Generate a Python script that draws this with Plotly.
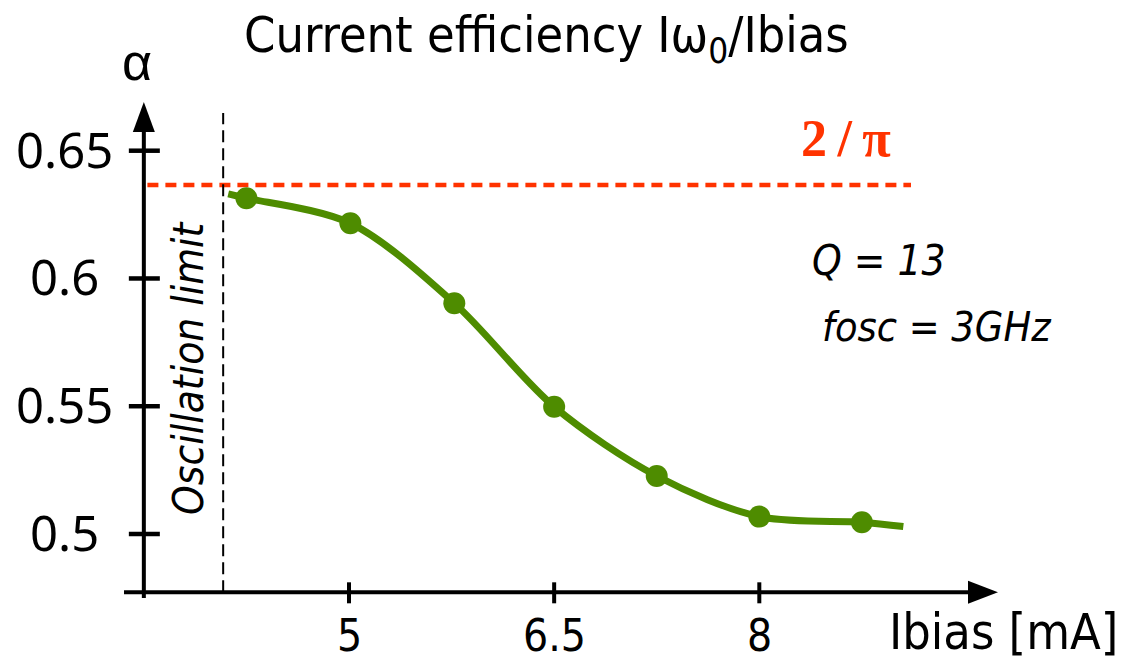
import plotly.graph_objects as go

# Measured current efficiency alpha versus bias current
ibias_ma = [4.25, 5.01, 5.77, 6.5, 7.25, 8.0, 8.75]
alpha = [0.6314, 0.6216, 0.5903, 0.5498, 0.5227, 0.5068, 0.5046]

# Smooth fitted trend drawn through the measurements
fit_ibias = [4.117, 4.25, 5.01, 5.77, 6.5, 7.25, 8.0, 8.75, 9.053]
fit_alpha = [0.6331, 0.6314, 0.6216, 0.5903, 0.5498, 0.5227, 0.5068, 0.5046, 0.5029]

# Axis ticks
x_ticks = [5, 6.5, 8]
x_tick_labels = ["5", "6.5", "8"]
y_ticks = [0.5, 0.55, 0.6, 0.65]
y_tick_labels = ["0.5", "0.55", "0.6", "0.65"]

# Theoretical limit and oscillation threshold
LIMIT = 2 / 3.141592653589793
OSC_LIMIT = 4.08

# Where the two drawn axes cross, and where their arrows end
X0, Y0 = 3.5, 0.47718
X_END, Y_END = 9.745, 0.6691

W, H = 1126, 670
GREEN = "#4e8c00"
RED = "#ff3300"
NARROW = "DejaVu Sans Condensed, Liberation Sans, sans-serif"

fig = go.Figure()

fig.add_trace(go.Scatter(
    x=fit_ibias, y=fit_alpha, mode="lines",
    line=dict(color=GREEN, width=7, shape="spline", smoothing=0.9),
    hoverinfo="skip", showlegend=False,
))
fig.add_trace(go.Scatter(
    x=ibias_ma, y=alpha, mode="markers",
    marker=dict(color=GREEN, size=22, line=dict(width=0)),
    showlegend=False,
))

shapes = []
# 2/pi dashed line
shapes.append(dict(type="line", xref="x", yref="y", x0=3.526, x1=9.109, y0=LIMIT, y1=LIMIT,
                   line=dict(color=RED, width=4.5, dash="11px,7px"), layer="below"))
# oscillation limit
shapes.append(dict(type="line", xref="x", yref="y", x0=OSC_LIMIT, x1=OSC_LIMIT, y0=Y0, y1=0.6648,
                   line=dict(color="black", width=2, dash="12px,6px"), layer="below"))
# axes
shapes.append(dict(type="line", xref="x", yref="y", x0=X0, x1=X0, y0=0.4750, y1=Y_END - 0.01,
                   line=dict(color="black", width=4)))
shapes.append(dict(type="line", xref="x", yref="y", x0=3.355, x1=X_END - 0.15, y0=Y0, y1=Y0,
                   line=dict(color="black", width=4)))
# arrow heads
shapes.append(dict(type="path", xref="x", yref="y",
                   path=f"M {X0 - 0.0804},{Y_END - 0.0118} L {X0 + 0.0804},{Y_END - 0.0118} L {X0},{Y_END} Z",
                   fillcolor="black", line=dict(width=0)))
shapes.append(dict(type="path", xref="x", yref="y",
                   path=f"M {X_END - 0.219},{Y0 - 0.0045} L {X_END - 0.219},{Y0 + 0.0045} L {X_END},{Y0} Z",
                   fillcolor="black", line=dict(width=0)))
# tick marks crossing the axes
for v in y_ticks:
    shapes.append(dict(type="line", xref="x", yref="y", xsizemode="pixel", xanchor=X0,
                       x0=-15, x1=16, y0=v, y1=v, line=dict(color="black", width=4.5)))
for v in x_ticks:
    shapes.append(dict(type="line", xref="x", yref="y", ysizemode="pixel", yanchor=Y0,
                       y0=-11, y1=10, x0=v, x1=v, line=dict(color="black", width=4)))

annotations = []
for v, t in zip(y_ticks, y_tick_labels):
    annotations.append(dict(text=t, xref="paper", yref="y", x=64 / W, y=v, yshift=2,
                            xanchor="center", yanchor="middle", showarrow=False,
                            font=dict(family="Noto Sans", size=49, color="black")))
for v, t in zip(x_ticks, x_tick_labels):
    annotations.append(dict(text=t, xref="x", yref="paper", x=v, y=1 - 635 / H,
                            xanchor="center", yanchor="middle", showarrow=False,
                            font=dict(family=NARROW, size=44, color="black")))

def px_note(text, px, py, size, family=NARROW, color="black", angle=0, italic=False, bold=False):
    t = text
    if italic:
        t = f"<i>{t}</i>"
    if bold:
        t = f"<b>{t}</b>"
    annotations.append(dict(text=t, xref="paper", yref="paper", x=px / W, y=1 - py / H,
                            xanchor="center", yanchor="middle", showarrow=False, textangle=angle,
                            font=dict(family=family, size=size, color=color)))

px_note("Current efficiency Iω<sub>0</sub>/Ibias", 546, 38, 50)
px_note("α", 137, 62, 52, family="Liberation Sans, Arial, sans-serif")
px_note("Ibias [mA]", 1003, 632, 50)
px_note("2\u2009/\u2009π", 846, 138, 52, family="Liberation Serif, Times New Roman, serif", color=RED, bold=True)
px_note("Q = 13", 878, 260, 42, italic=True)
px_note("fosc = 3GHz", 937, 327, 41, italic=True)
px_note("Oscillation limit", 188, 368, 42, angle=-90, italic=True)

fig.update_layout(
    width=W, height=H, autosize=False,
    margin=dict(l=0, r=0, t=0, b=0, pad=0),
    paper_bgcolor="white", plot_bgcolor="white",
    xaxis=dict(range=[5 - 349 / 136.77, 5 + 777 / 136.77], visible=False, fixedrange=True),
    yaxis=dict(range=[0.5 - 136 / 2555.3, 0.5 + 534 / 2555.3], visible=False, fixedrange=True),
    shapes=shapes, annotations=annotations,
    showlegend=False,
)

fig.write_html("out.html")
